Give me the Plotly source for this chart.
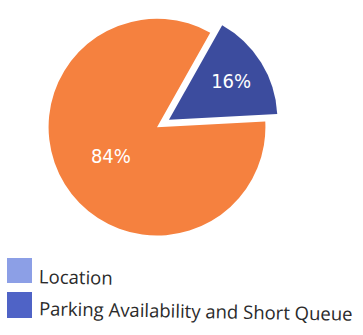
import plotly.graph_objects as go

# Share of responses by main reason
labels = ["Location", "Parking Availability and Short Queue"]
values = [84, 16]
slice_colors = ["#F5813F", "#3C4C9E"]
legend_colors = ["#8C9FE6", "#4F63C6"]

W, H = 363, 335

fig = go.Figure(
    go.Pie(
        labels=labels,
        values=values,
        sort=False,
        direction="clockwise",
        rotation=87,
        pull=[0, 0.13],
        marker=dict(colors=slice_colors, line=dict(width=0)),
        textinfo="percent",
        texttemplate="%{percent:.0%}",
        textposition="inside",
        insidetextorientation="horizontal",
        insidetextfont=dict(color="white", size=20, family="DejaVu Sans Condensed"),
        showlegend=False,
        hoverinfo="label+percent",
        domain=dict(x=[0.095, 0.770], y=[0.245, 0.996]),
    )
)

# Legend drawn as swatches with labels beneath the pie
legend_rows = [(258, 283, 276), (292, 318, 310)]
shapes, annotations = [], []
for (top, bottom, mid), name, col in zip(legend_rows, labels, legend_colors):
    shapes.append(dict(
        type="rect", xref="paper", yref="paper",
        x0=7 / W, x1=32 / W, y0=1 - bottom / H, y1=1 - top / H,
        fillcolor=col, line=dict(width=0),
    ))
    annotations.append(dict(
        xref="paper", yref="paper", x=37 / W, y=1 - mid / H,
        xanchor="left", yanchor="middle", showarrow=False,
        text=name, textangle=1,
        font=dict(family="Open Sans", size=18.5, color="#2a2a2a"),
    ))

fig.update_layout(
    width=W, height=H,
    margin=dict(l=0, r=0, t=0, b=0),
    paper_bgcolor="white",
    plot_bgcolor="white",
    shapes=shapes,
    annotations=annotations,
)

fig.write_html("out.html")
